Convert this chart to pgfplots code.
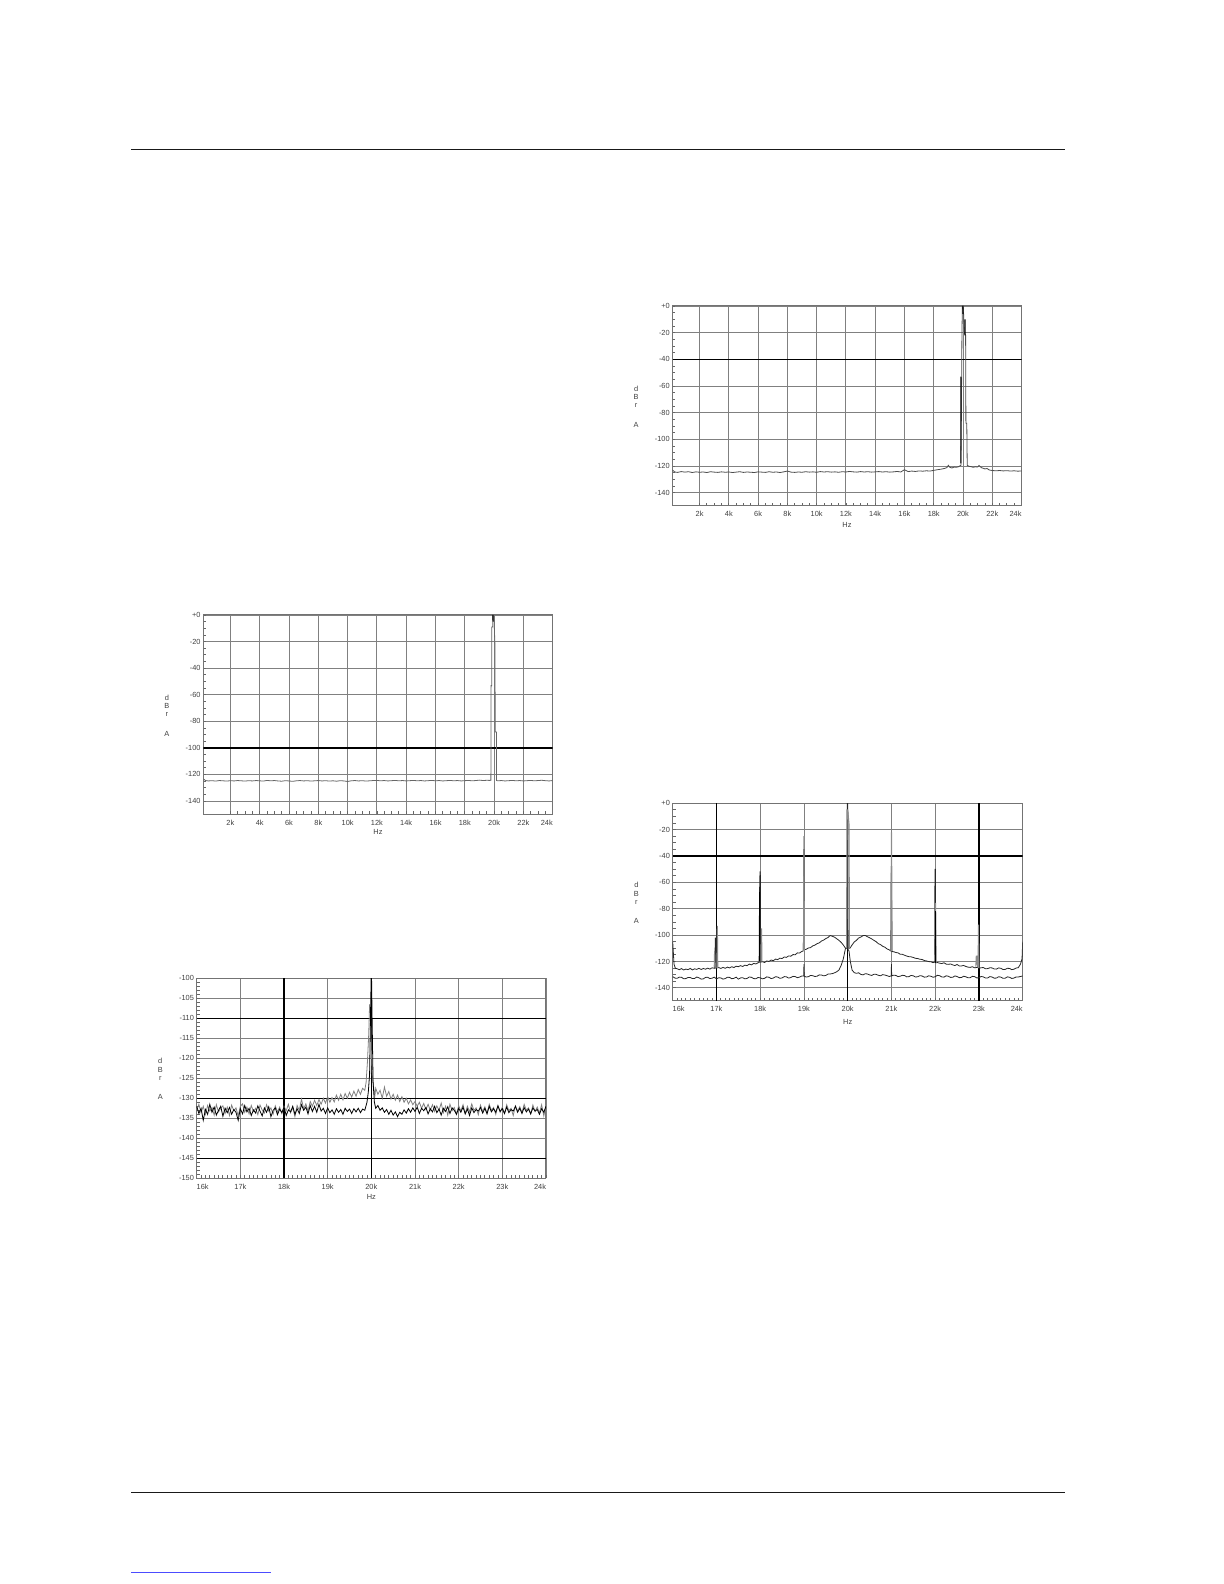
\documentclass[border=0pt]{standalone}
\usepackage{fontspec}
\setmainfont{Liberation Sans}
\usepackage{pgfplots}
\pgfplotsset{compat=1.18}
\newcommand\tf{\fontsize{3.7bp}{4.4bp}\selectfont}
\pgfplotsset{apstyle/.style={
  scale only axis, clip mode=individual,
  scaled x ticks=false, scaled y ticks=false,
  axis line style={draw=black!55, line width=0.5bp},
  grid=major, major grid style={draw=black!50, line width=0.45bp},
  tick align=inside, tick pos=left,
  major tick length=1.4bp, minor tick length=1.4bp,
  tick style={draw=black!60, line width=0.4bp},
  ticklabel style={font=\tf, text=black!75},
  xticklabel style={inner sep=1bp, yshift=-1.5bp},
  yticklabel style={inner sep=1.2bp},
  unbounded coords=jump,
  every axis plot/.append style={line width=0.4bp, mark=none},
}}
\newcommand\ylab[1]{%
  \node[font=\tf, text=black!75] at (rel axis cs:0,0.5) [xshift=-18.2bp, yshift=8.5bp] {d};
  \node[font=\tf, text=black!75] at (rel axis cs:0,0.5) [xshift=-18.2bp, yshift=4.3bp] {B};
  \node[font=\tf, text=black!75] at (rel axis cs:0,0.5) [xshift=-18.2bp] {r};
  \node[font=\tf, text=black!75] at (rel axis cs:0,0.5) [xshift=-18.2bp, yshift=-9.5bp] {A};
  \node[font=\tf, text=black!75] at (rel axis cs:0.5,0) [yshift=-#1] {Hz};
}
\begin{document}
\begin{tikzpicture}
\useasboundingbox (0,0) rectangle (612bp,792bp);
\draw[line width=0.8bp, black!90] (65.5bp,717.25bp) -- (532.5bp,717.25bp);
\draw[line width=0.8bp, black!90] (65.5bp,45.7bp) -- (532.5bp,45.7bp);
\draw[line width=0.5bp, blue!70] (65.5bp,5.5bp) -- (135.5bp,5.5bp);

% ---------- Plot 1 (top right)
\begin{axis}[apstyle, at={(336.25bp,539bp)}, anchor=south west,
  width=174.5bp, height=100bp,
  xmin=150, xmax=24000, ymin=-150, ymax=0,
  xtick={2000,4000,...,24000},
  xticklabels={2k,4k,6k,8k,10k,12k,14k,16k,18k,20k,22k,\makebox[0pt][r]{24k}},
  ytick={-140,-120,...,0},
  yticklabels={-140,-120,-100,-80,-60,-40,-20,+0},
  minor x tick num=3, minor y tick num=3]
\addplot[black, line width=0.7bp] coordinates {(150,-40) (24000,-40)};
\addplot[black!70] coordinates {
(150,-123.0)(300,-124.5)(500,-124.8)(750,-124.2)(1000,-124.6)(1250,-124.3)(1500,-124.9)(1750,-124.4)
(2000,-124.7)(2250,-124.5)(2500,-124.9)(2750,-124.3)(3000,-124.6)(3250,-124.8)(3500,-124.4)(3750,-124.7)
(4000,-124.5)(4250,-124.9)(4500,-124.6)(4750,-124.3)(5000,-124.8)(5250,-124.5)(5500,-124.7)(5750,-124.9)
(6000,-124.4)(6250,-124.6)(6500,-124.8)(6750,-124.3)(7000,-124.7)(7250,-124.5)(7500,-124.9)(7750,-124.4)
(8000,-123.8)(8250,-124.6)(8500,-124.8)(8750,-124.5)(9000,-124.7)(9250,-124.3)(9500,-124.6)(9750,-124.4)
(10000,-124.7)(10250,-124.2)(10500,-124.5)(10750,-124.3)(11000,-124.6)(11250,-124.4)(11500,-124.7)(11750,-124.3)
(12000,-124.5)(12250,-124.1)(12500,-124.4)(12750,-124.6)(13000,-124.2)(13250,-124.5)(13500,-124.3)(13750,-124.6)
(14000,-124.4)(14250,-124.2)(14500,-124.5)(14750,-124.3)(15000,-124.6)(15250,-124.4)(15500,-124.1)(15750,-124.5)
(16000,-122.8)(16250,-124.2)(16500,-123.8)(16750,-124.1)(17000,-123.7)(17250,-123.9)(17500,-123.6)(17750,-123.8)
(18000,-123.3)(18250,-122.8)(18500,-122.4)(18750,-121.8)(18900,-121.2)(19000,-119.5)(19100,-121.0)(19250,-121.5)
(19400,-120.8)(19550,-121.0)(19700,-120.5)(19800,-119.8)(19860,-119.5)(19880,-100)(19930,-20)(19960,0)
(20020,0)(20050,-8)(20090,-20)(20180,-22)(20200,-88)(20260,-88)(20290,-119.5)(20400,-120.2)
(20550,-120.5)(20700,-121.0)(20850,-120.6)(21000,-120.8)(21100,-119.6)(21250,-121.2)(21400,-121.8)(21500,-122.2)
(21650,-121.9)(21800,-123.0)(22000,-123.4)(22250,-123.6)(22500,-123.4)(22750,-123.7)(23000,-123.5)(23250,-123.8)
(23500,-123.6)(23750,-123.9)(24000,-123.7)};
\addplot[black, line width=0.55bp] coordinates {(19860,-118)(19860,-53)(19860,nan)(19990,0)(20000,-6)(20000,nan)(20137,-10)(20137,-22)};
\ylab{9.5bp}
\end{axis}

% ---------- Plot 2 (middle left)
\begin{axis}[apstyle, at={(101.65bp,384.85bp)}, anchor=south west,
  width=174.7bp, height=99.65bp,
  xmin=150, xmax=24000, ymin=-150, ymax=0,
  xtick={2000,4000,...,24000},
  xticklabels={2k,4k,6k,8k,10k,12k,14k,16k,18k,20k,22k,\makebox[0pt][r]{24k}},
  ytick={-140,-120,...,0},
  yticklabels={-140,-120,-100,-80,-60,-40,-20,+0},
  minor x tick num=3, minor y tick num=3]
\addplot[black, line width=0.7bp] coordinates {(150,-100) (24000,-100)};
\addplot[black!60] coordinates {
(150,-123.3)(300,-124.6)(500,-124.9)(750,-124.7)(1000,-125.0)(1250,-124.6)(1500,-124.8)(1750,-125.0)
(2000,-124.7)(2250,-124.9)(2500,-124.6)(2750,-124.8)(3000,-125.0)(3250,-124.7)(3500,-124.9)(3750,-124.6)
(4000,-124.8)(4250,-125.0)(4500,-124.5)(4750,-124.8)(5000,-124.6)(5250,-124.9)(5500,-125.1)(5750,-124.7)
(6000,-124.9)(6250,-125.2)(6500,-124.8)(6750,-124.6)(7000,-124.9)(7250,-124.7)(7500,-125.0)(7750,-124.8)
(8000,-124.6)(8250,-124.9)(8500,-124.7)(8750,-125.0)(9000,-124.8)(9250,-125.1)(9500,-124.7)(9750,-124.9)
(10000,-125.3)(10250,-124.8)(10500,-124.6)(10750,-124.9)(11000,-124.7)(11250,-125.0)(11500,-124.8)(11750,-124.6)
(12000,-124.5)(12250,-124.8)(12500,-124.6)(12750,-124.9)(13000,-124.7)(13250,-124.5)(13500,-124.8)(13750,-124.6)
(14000,-124.9)(14250,-124.7)(14500,-124.5)(14750,-124.8)(15000,-124.6)(15250,-124.9)(15500,-124.7)(15750,-124.5)
(16000,-124.8)(16250,-124.6)(16500,-124.9)(16750,-124.7)(17000,-124.5)(17250,-124.8)(17500,-124.6)(17750,-124.9)
(18000,-124.7)(18250,-124.5)(18500,-124.8)(18750,-124.6)(19000,-124.3)(19250,-124.6)(19500,-124.4)(19700,-124.5)
(19780,-124.4)(19795,-53)(19840,-53)(19845,-9)(19900,-9)(19910,0)(19990,0)(20000,-4)
(20050,-21)(20065,-21)(20070,-88)(20160,-88)(20170,-124.6)(20250,-124.8)(20500,-124.6)(20750,-124.9)
(21000,-124.7)(21250,-124.5)(21500,-124.8)(21750,-124.6)(22000,-124.9)(22250,-124.7)(22500,-124.5)(22750,-124.8)
(23000,-124.6)(23250,-124.4)(23500,-124.7)(23750,-124.9)(24000,-124.6)};
\addplot[black, line width=0.55bp] coordinates {(19920,0)(19930,-5)};
\ylab{9bp}
\end{axis}

% ---------- Plot 3 (bottom left)
\begin{axis}[apstyle, at={(98.35bp,202.85bp)}, anchor=south west,
  width=174.65bp, height=100bp,
  xmin=16000, xmax=24000, ymin=-150, ymax=-100,
  xtick={16000,17000,...,24000},
  xticklabels={\makebox[0pt][l]{16k},17k,18k,19k,20k,21k,22k,23k,\makebox[0pt][r]{24k}},
  ytick={-150,-145,...,-100},
  yticklabels={-150,-145,-140,-135,-130,-125,-120,-115,-110,-105,-100},
  minor x tick num=9, minor y tick num=4]
\addplot[black, line width=0.7bp] coordinates {(16000,-110)(24000,-110)(24000,nan)(16000,-130)(24000,-130)(24000,nan)(16000,-145)(24000,-145)};
\addplot[black, line width=0.7bp] coordinates {(18000,-150)(18000,-100)(18000,nan)(20000,-150)(20000,-100)};
\addplot[black!50] coordinates {
(16000,-133.0)(16050,-131.5)(16100,-133.6)(16150,-132.0)(16200,-134.0)(16250,-131.8)(16300,-133.2)(16350,-132.3)
(16400,-134.2)(16450,-131.6)(16500,-133.4)(16550,-132.5)(16600,-131.9)(16650,-133.8)(16700,-132.2)(16750,-134.3)
(16800,-131.7)(16850,-133.1)(16900,-132.4)(16950,-134.4)(17000,-132.0)(17050,-131.4)(17100,-133.5)(17150,-132.2)
(17200,-133.9)(17250,-131.8)(17300,-133.3)(17350,-132.5)(17400,-134.1)(17450,-131.7)(17500,-132.9)(17550,-133.7)
(17600,-131.6)(17650,-133.2)(17700,-132.4)(17750,-134.0)(17800,-131.9)(17850,-133.4)(17900,-132.2)(17950,-133.8)
(18000,-132.0)(18050,-133.1)(18100,-131.5)(18150,-133.6)(18200,-132.3)(18250,-134.6)(18300,-131.8)(18350,-133.0)
(18400,-130.2)(18450,-132.6)(18500,-131.4)(18550,-133.2)(18600,-130.8)(18650,-132.0)(18700,-130.5)(18750,-131.8)
(18800,-130.3)(18850,-131.5)(18900,-130.0)(18950,-131.2)(19000,-129.6)(19050,-131.0)(19100,-129.8)(19150,-130.9)
(19200,-129.2)(19250,-130.5)(19300,-129.0)(19350,-130.4)(19400,-128.8)(19450,-130.0)(19500,-128.5)(19550,-129.7)
(19600,-128.2)(19650,-129.5)(19700,-127.8)(19750,-129.0)(19800,-127.5)(19850,-128.0)(19880,-126.0)(19910,-121.0)
(19940,-114.0)(19960,-106.5)(19980,-108.0)(20000,-118.0)(20020,-124.0)(20050,-127.0)(20080,-129.5)(20100,-127.5)
(20150,-129.0)(20200,-128.0)(20250,-130.0)(20300,-127.2)(20350,-129.5)(20400,-128.3)(20450,-130.2)(20500,-129.0)
(20550,-130.5)(20600,-129.2)(20650,-130.8)(20700,-129.6)(20750,-131.0)(20800,-130.0)(20850,-131.4)(20900,-130.4)
(20950,-131.6)(21000,-130.8)(21050,-132.0)(21100,-131.0)(21150,-132.5)(21200,-131.3)(21250,-132.8)(21300,-131.5)
(21350,-133.0)(21400,-131.6)(21450,-133.3)(21500,-131.9)(21550,-133.0)(21600,-131.2)(21650,-133.6)(21700,-132.0)
(21750,-134.2)(21800,-131.5)(21850,-133.1)(21900,-132.3)(21950,-134.0)(22000,-131.8)(22050,-133.2)(22100,-131.6)
(22150,-133.8)(22200,-132.0)(22250,-133.4)(22300,-131.4)(22350,-133.0)(22400,-132.4)(22450,-134.1)(22500,-131.7)
(22550,-133.3)(22600,-132.1)(22650,-133.7)(22700,-131.5)(22750,-133.0)(22800,-132.3)(22850,-134.0)(22900,-131.8)
(22950,-133.5)(23000,-132.2)(23050,-133.8)(23100,-131.6)(23150,-133.1)(23200,-132.5)(23250,-134.3)(23300,-131.9)
(23350,-133.2)(23400,-132.1)(23450,-133.6)(23500,-131.5)(23550,-133.0)(23600,-132.4)(23650,-133.9)(23700,-131.7)
(23750,-133.3)(23800,-132.2)(23850,-133.7)(23900,-131.6)(23950,-134.4)(24000,-131.8)};
\addplot[black] coordinates {
(16000,-132.0)(16050,-133.8)(16100,-132.5)(16150,-135.5)(16200,-132.8)(16250,-134.0)(16300,-131.5)(16350,-133.5)
(16400,-132.2)(16450,-134.2)(16500,-133.0)(16550,-132.0)(16600,-134.5)(16650,-132.5)(16700,-133.6)(16750,-132.3)
(16800,-134.0)(16850,-132.8)(16900,-133.5)(16950,-135.5)(17000,-132.6)(17050,-133.9)(17100,-131.8)(17150,-133.4)
(17200,-132.5)(17250,-134.3)(17300,-132.9)(17350,-133.7)(17400,-131.9)(17450,-133.2)(17500,-134.4)(17550,-132.4)
(17600,-133.5)(17650,-132.1)(17700,-134.6)(17750,-133.0)(17800,-132.4)(17850,-134.1)(17900,-132.7)(17950,-133.6)
(18000,-132.2)(18050,-134.3)(18100,-132.9)(18150,-133.4)(18200,-132.0)(18250,-134.0)(18300,-132.6)(18350,-133.8)
(18400,-131.6)(18450,-133.0)(18500,-132.2)(18550,-133.9)(18600,-131.8)(18650,-133.3)(18700,-132.0)(18750,-133.5)
(18800,-131.5)(18850,-133.2)(18900,-132.5)(18950,-133.8)(19000,-132.4)(19050,-133.6)(19100,-132.9)(19150,-134.0)
(19200,-132.6)(19250,-133.5)(19300,-132.8)(19350,-134.0)(19400,-132.5)(19450,-133.3)(19500,-132.7)(19550,-133.8)
(19600,-132.6)(19650,-133.4)(19700,-132.5)(19750,-133.6)(19800,-132.7)(19850,-133.0)(19900,-131.0)(19930,-128.5)
(19960,-124.0)(19980,-110.0)(19995,-100.0)(20005,-100.0)(20020,-112.0)(20040,-126.0)(20070,-131.0)(20100,-132.5)
(20150,-131.8)(20200,-133.0)(20250,-132.4)(20300,-133.5)(20350,-132.8)(20400,-134.0)(20450,-133.0)(20500,-134.2)
(20550,-133.4)(20600,-134.6)(20650,-133.5)(20700,-134.0)(20750,-132.9)(20800,-133.7)(20850,-132.6)(20900,-133.5)
(20950,-132.4)(21000,-133.3)(21050,-132.2)(21100,-133.8)(21150,-132.5)(21200,-133.1)(21250,-132.3)(21300,-133.9)
(21350,-132.6)(21400,-133.4)(21450,-132.0)(21500,-133.6)(21550,-132.7)(21600,-134.2)(21650,-132.5)(21700,-133.3)
(21750,-132.1)(21800,-133.8)(21850,-132.4)(21900,-133.0)(21950,-134.0)(22000,-132.5)(22050,-133.5)(22100,-132.2)
(22150,-133.9)(22200,-132.7)(22250,-134.3)(22300,-132.4)(22350,-133.6)(22400,-132.8)(22450,-133.2)(22500,-132.3)
(22550,-133.7)(22600,-132.5)(22650,-133.9)(22700,-132.0)(22750,-133.4)(22800,-132.6)(22850,-133.5)(22900,-131.9)
(22950,-133.3)(23000,-132.6)(23050,-133.8)(23100,-132.2)(23150,-133.6)(23200,-132.8)(23250,-133.2)(23300,-132.0)
(23350,-133.5)(23400,-132.5)(23450,-133.8)(23500,-132.3)(23550,-133.4)(23600,-132.7)(23650,-133.9)(23700,-132.4)
(23750,-133.2)(23800,-132.8)(23850,-134.0)(23900,-132.6)(23950,-133.5)(24000,-132.0)};
\ylab{9.5bp}
\end{axis}

% ---------- Plot 4 (bottom right)
\begin{axis}[apstyle, at={(336.35bp,291.5bp)}, anchor=south west,
  width=175bp, height=98.85bp,
  xmin=16000, xmax=24000, ymin=-150, ymax=0,
  xtick={16000,17000,...,24000},
  xticklabels={\makebox[0pt][l]{16k},17k,18k,19k,20k,21k,22k,23k,\makebox[0pt][r]{24k}},
  ytick={-140,-120,...,0},
  yticklabels={-140,-120,-100,-80,-60,-40,-20,+0},
  minor x tick num=9, minor y tick num=3]
\addplot[black, line width=0.7bp] coordinates {(16000,-40)(24000,-40)};
\addplot[black, line width=0.7bp] coordinates {(17000,-150)(17000,0)(17000,nan)(20000,-150)(20000,0)(20000,nan)(23000,-150)(23000,0)};
% upper trace
\addplot[black!85] coordinates {
(16000,-105)(16030,-122)(16060,-125.2)(16100,-125.5)(16150,-126.3)(16200,-125.4)(16250,-126.5)(16300,-125.8)(16350,-126.2)
(16400,-125.3)(16450,-126.4)(16500,-125.6)(16550,-126.0)(16600,-125.2)(16650,-126.1)(16700,-125.3)(16750,-125.9)
(16800,-125.1)(16850,-125.8)(16900,-124.8)(16960,-125.2)(16975,-102)(16990,-125)(17050,-124.6)(17100,-125.3)
(17150,-124.5)(17200,-125.2)(17250,-124.3)(17300,-124.9)(17350,-124.0)(17400,-124.6)(17450,-123.6)(17500,-124.0)
(17550,-123.2)(17600,-123.8)(17650,-122.8)(17700,-123.2)(17750,-122.0)(17800,-122.6)(17850,-121.5)(17900,-121.9)
(17950,-121.0)(17975,-120.8)(17985,-67)(17995,-52)(18003,-52)(18012,-120.5)(18050,-120.2)(18100,-120.8)
(18150,-119.6)(18200,-120.0)(18250,-118.9)(18300,-119.4)(18350,-118.2)(18400,-118.6)(18450,-117.5)(18500,-117.8)
(18550,-116.6)(18600,-116.9)(18650,-115.8)(18700,-116.0)(18750,-114.8)(18800,-114.9)(18850,-113.5)(18900,-113.6)
(18950,-112.4)(18985,-112)(18990,-100)(18995,-35)(19004,-35)(19012,-111)(19050,-110.8)(19100,-109.8)
(19150,-109.5)(19200,-108.2)(19250,-107.6)(19300,-106.5)(19350,-105.9)(19400,-104.5)(19450,-103.8)(19500,-102.6)
(19550,-101.8)(19600,-100.3)(19650,-100.9)(19700,-101.6)(19750,-102.8)(19800,-104.0)(19850,-105.5)(19900,-107.5)
(19950,-110)(19985,-110)(19992,0)(20003,0)(20010,-110)(20050,-110)(20100,-107.5)(20150,-105.2)
(20200,-104)(20250,-102.2)(20300,-101.5)(20350,-100.4)(20400,-100.3)(20450,-101.2)(20500,-102)(20550,-102.9)
(20600,-104)(20650,-105.0)(20700,-106.5)(20750,-107.2)(20800,-108.5)(20850,-109.2)(20900,-110.5)(20950,-111.2)
(20985,-112)(20995,-48)(21004,-48)(21012,-112.5)(21050,-112.6)(21100,-113.2)(21150,-113.5)(21200,-114.5)
(21250,-114.6)(21300,-115.3)(21350,-115.9)(21400,-116.4)(21450,-116.5)(21500,-117.0)(21550,-117.6)(21600,-117.8)
(21650,-118.3)(21700,-118.5)(21750,-119.3)(21800,-119.6)(21850,-120.1)(21900,-120.2)(21950,-120.9)(21985,-120.6)
(21995,-50)(22004,-50)(22012,-121)(22050,-120.8)(22100,-121.3)(22150,-121.6)(22200,-121.0)(22250,-122.0)
(22300,-122.2)(22350,-121.9)(22400,-122.6)(22450,-123.1)(22500,-122.3)(22550,-123.4)(22600,-123.4)(22650,-123.0)
(22700,-123.8)(22750,-124.3)(22800,-124.5)(22850,-124.0)(22900,-124.8)(22970,-124.5)(22985,-116)(23000,-116)
(23015,-125)(23050,-124.8)(23100,-124.6)(23150,-125.6)(23200,-125.4)(23250,-124.8)(23300,-124.9)(23350,-125.7)
(23400,-125.8)(23450,-124.9)(23500,-125.2)(23550,-126.1)(23600,-126.0)(23650,-125.2)(23700,-125.3)(23750,-126.2)
(23800,-125.9)(23850,-125.0)(23900,-124.7)(23950,-122)(23985,-118)(24000,-105)};
% lower trace
\addplot[black!85] coordinates {
(16000,-131.5)(16050,-132.6)(16100,-132.8)(16150,-131.9)(16200,-132.0)(16250,-133.1)(16300,-133.0)(16350,-132.2)
(16400,-132.2)(16450,-133.0)(16500,-132.9)(16550,-131.8)(16600,-132.4)(16650,-133.4)(16700,-133.2)(16750,-132.1)
(16800,-132.0)(16850,-133.0)(16900,-132.7)(16950,-131.9)(17000,-133.3)(17050,-132.4)(17100,-132.5)(17150,-133.4)
(17200,-133.0)(17250,-132.0)(17300,-132.1)(17350,-133.1)(17400,-132.8)(17450,-131.9)(17500,-133.4)(17550,-132.5)
(17600,-132.3)(17650,-133.2)(17700,-132.9)(17750,-131.8)(17800,-132.0)(17850,-133.0)(17900,-133.1)(17950,-132.2)
(18000,-132.4)(18050,-133.2)(18100,-132.8)(18150,-131.7)(18200,-132.0)(18250,-133.0)(18300,-132.6)(18350,-131.6)
(18400,-131.8)(18450,-132.8)(18500,-132.5)(18550,-131.5)(18600,-131.7)(18650,-132.6)(18700,-132.2)(18750,-131.3)
(18800,-131.5)(18850,-132.3)(18900,-131.9)(18950,-131.0)(18995,-131.0)(19000,-122)(19005,-131.2)(19050,-131.8)
(19100,-131.6)(19150,-130.6)(19200,-130.8)(19250,-131.4)(19300,-131.2)(19350,-130.2)(19400,-130.3)(19450,-130.9)
(19500,-130.6)(19550,-129.6)(19600,-129.5)(19650,-129.2)(19700,-128.6)(19750,-127.8)(19800,-126.5)(19850,-123)
(19900,-118)(19950,-110)(19990,-110)(20030,-112)(20060,-120)(20100,-126.5)(20150,-128.5)(20200,-129.0)
(20250,-128.6)(20300,-129.8)(20350,-130.2)(20400,-129.3)(20450,-129.5)(20500,-130.2)(20550,-130.6)(20600,-129.7)
(20650,-129.8)(20700,-130.5)(20750,-130.9)(20800,-130.0)(20850,-130.3)(20900,-130.8)(20950,-131.4)(20995,-131.0)
(21000,-122)(21005,-131.0)(21050,-130.4)(21100,-130.6)(21150,-131.5)(21200,-131.2)(21250,-130.5)(21300,-130.7)
(21350,-131.7)(21400,-131.5)(21450,-130.6)(21500,-130.9)(21550,-131.8)(21600,-131.6)(21650,-130.8)(21700,-131.0)
(21750,-131.9)(21800,-131.8)(21850,-130.9)(21900,-131.2)(21950,-132.0)(22000,-131.6)(22050,-130.5)(22100,-130.8)
(22150,-131.7)(22200,-131.9)(22250,-130.9)(22300,-131.2)(22350,-132.1)(22400,-132.0)(22450,-131.0)(22500,-131.4)
(22550,-132.3)(22600,-132.2)(22650,-131.2)(22700,-131.6)(22750,-132.4)(22800,-132.3)(22850,-131.3)(22900,-131.5)
(22950,-132.5)(23000,-132.4)(23050,-131.4)(23100,-131.7)(23150,-132.6)(23200,-132.5)(23250,-131.5)(23300,-131.8)
(23350,-132.7)(23400,-132.6)(23450,-131.6)(23500,-131.9)(23550,-132.8)(23600,-132.7)(23650,-131.7)(23700,-132.0)
(23750,-132.9)(23800,-132.6)(23850,-131.8)(23900,-131.8)(23950,-131.4)(24000,-131.0)};
% gray spike components
\addplot[black!45, line width=0.55bp] coordinates {
(16950,-124)(16958,-112)(16966,-124)(16966,nan)
(17010,-125)(17020,-93)(17030,-125)(17030,nan)
(18020,-120)(18030,-95)(18040,-120)(18040,nan)
(18990,-112)(19000,-25)(19010,-112)(19010,nan)
(19975,-110)(19985,-5)(20000,-5)(20030,-16)(20040,-110)(20040,nan)
(20990,-112)(21000,-22)(21010,-112)(21010,nan)
(21990,-120)(21998,-76)(22010,-76)(22020,-121)(22020,nan)
(22930,-124)(22940,-116)(22960,-116)(22970,-124)(22970,nan)
(22980,-125)(22990,-92)(23000,-125)};
\addplot[black, line width=0.55bp] coordinates {
(17980,-67)(17980,-120)(17980,nan)(22015,-82)(22015,-121)};
\ylab{10.5bp}
\end{axis}
\end{tikzpicture}
\end{document}
